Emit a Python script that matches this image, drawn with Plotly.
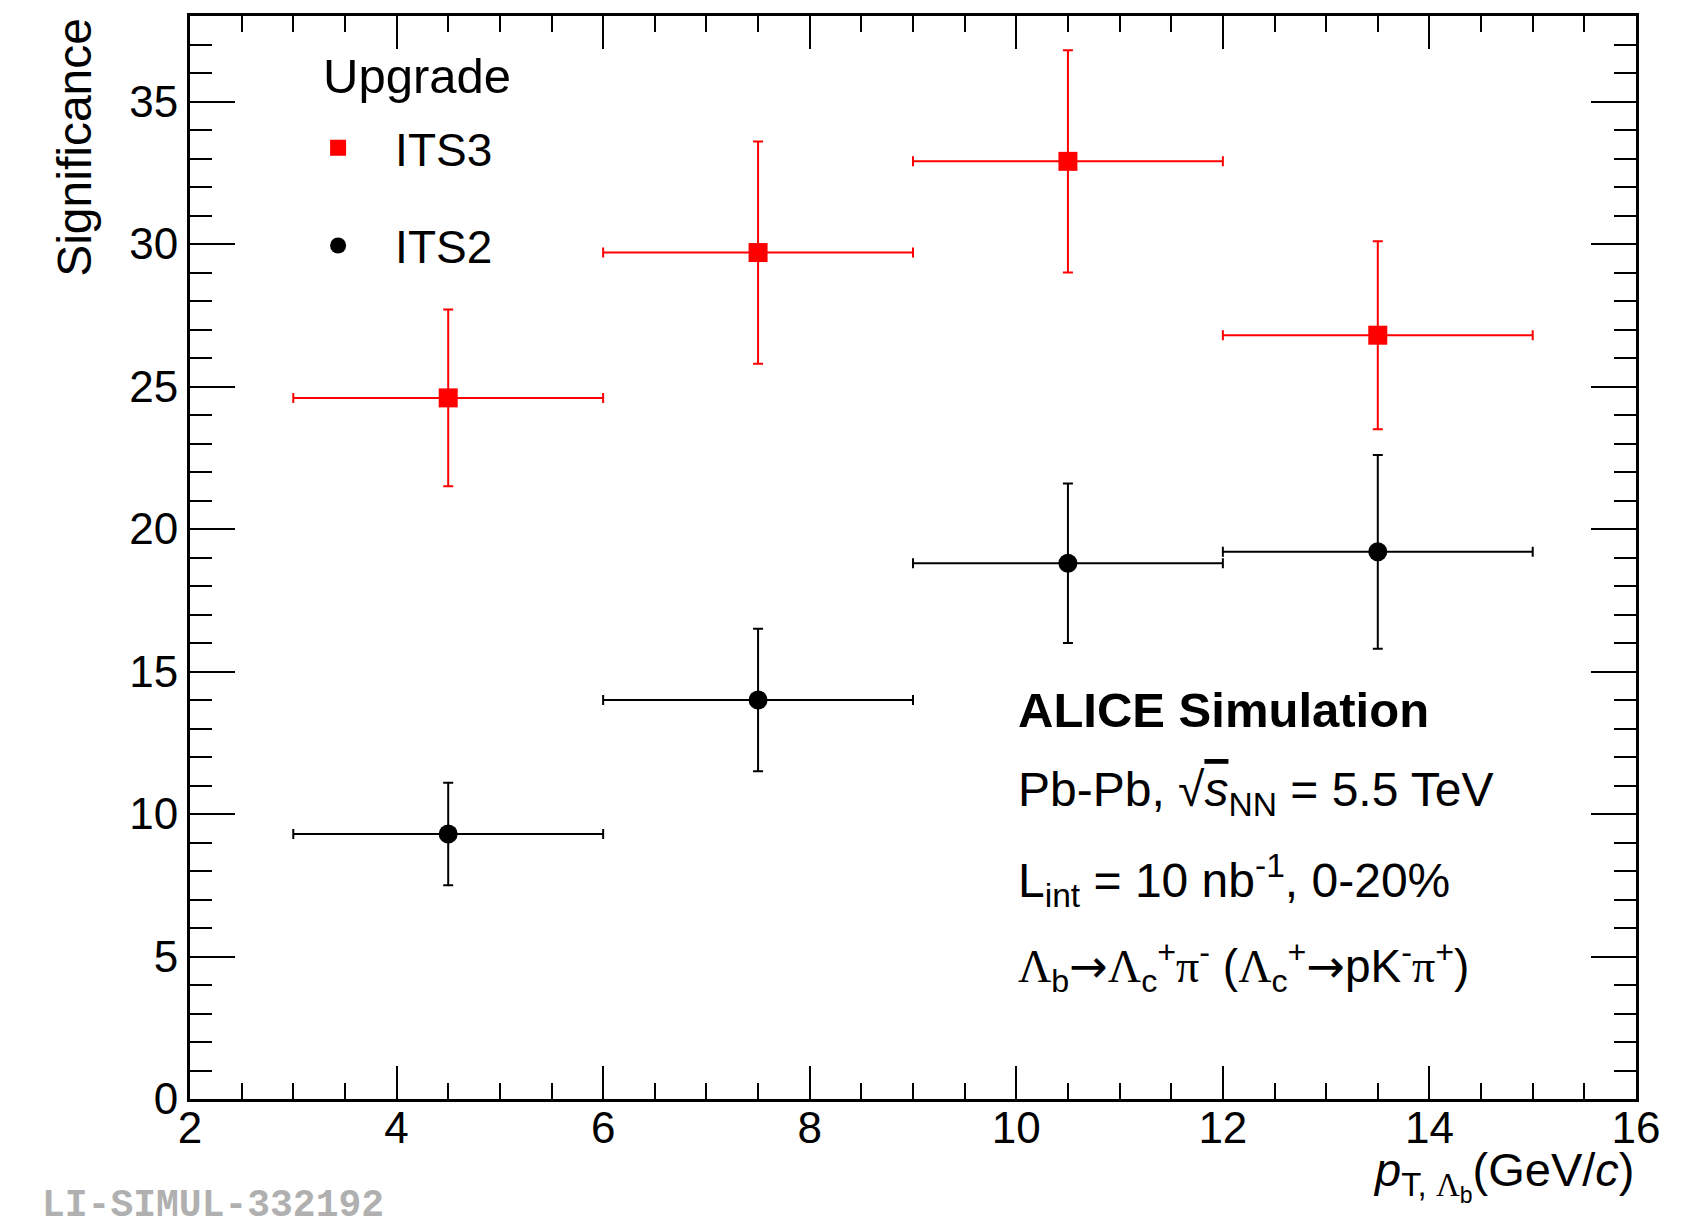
import plotly.graph_objects as go

# ---- data ----
pt_centers = [4.5, 7.5, 10.5, 13.5]
pt_halfwidth = [1.5, 1.5, 1.5, 1.5]

its3_sig = [24.6, 29.7, 32.9, 26.8]
its3_err = [3.1, 3.9, 3.9, 3.3]

its2_sig = [9.3, 14.0, 18.8, 19.2]
its2_err = [1.8, 2.5, 2.8, 3.4]

x_ticks = [2, 4, 6, 8, 10, 12, 14, 16]
y_ticks = [0, 5, 10, 15, 20, 25, 30, 35]

FONT = "Liberation Sans, Arial, Helvetica, sans-serif"
SERIF = "font-family:Liberation Serif, Times New Roman, serif"
ARROW = "<span style='font-family:DejaVu Sans'>→</span>"
LAM = f"<span style='{SERIF}'>Λ</span>"
PI = f"<span style='{SERIF}'>π</span>"

fig = go.Figure()

fig.add_trace(go.Scatter(
    x=pt_centers, y=its3_sig, mode="markers", name="ITS3",
    legendgroup="its3",
    marker=dict(symbol="square", size=19, color="#ff0000"),
    error_x=dict(type="data", array=pt_halfwidth, color="#ff0000", thickness=2, width=5),
    error_y=dict(type="data", array=its3_err, color="#ff0000", thickness=2, width=5),
))
fig.add_trace(go.Scatter(
    x=pt_centers, y=its2_sig, mode="markers", name="ITS2",
    legendgroup="its2",
    marker=dict(symbol="circle", size=19, color="#000000"),
    error_x=dict(type="data", array=pt_halfwidth, color="#000000", thickness=2, width=5),
    error_y=dict(type="data", array=its2_err, color="#000000", thickness=2, width=5),
))

axis_common = dict(
    showgrid=False, zeroline=False, showline=True, linecolor="black", linewidth=3,
    mirror="allticks", ticks="inside", tickcolor="black", tickwidth=2,
    tickfont=dict(family=FONT, size=44, color="black"),
)

fig.update_xaxes(
    range=[2, 16], tickvals=x_ticks, ticklen=33, ticklabelstandoff=-12,
    minor=dict(dtick=0.5, ticklen=16, tickwidth=2, ticks="inside", tickcolor="black"),
    **axis_common,
)
fig.update_yaxes(
    range=[0, 38], tickvals=y_ticks, ticklen=45,
    minor=dict(dtick=1, ticklen=22, tickwidth=2, ticks="inside", tickcolor="black"),
    **axis_common,
)

annotations = [
    # y-axis title (top aligned, ROOT style)
    dict(text="Significance", textangle=-90, xref="paper", yref="paper",
         x=-0.08, y=1.0, xanchor="center", yanchor="top", showarrow=False,
         font=dict(family=FONT, size=48, color="black")),
    # x-axis title (right aligned)
    dict(text=f"<i>p</i><sub>T, {LAM}<sub>b</sub></sub>(GeV/<i>c</i>)", xref="paper", yref="paper",
         x=1.0, y=-0.071, xanchor="right", yanchor="middle", showarrow=False,
         font=dict(family=FONT, size=47, color="black")),
    # legend header
    dict(text="Upgrade", xref="paper", yref="paper",
         x=0.0905, y=0.945, xanchor="left", yanchor="middle", showarrow=False,
         font=dict(family=FONT, size=49, color="black")),
    # text block
    dict(text="<b>ALICE Simulation</b>", xref="paper", yref="paper",
         x=0.571, y=0.359, xanchor="left", yanchor="middle", showarrow=False,
         font=dict(family=FONT, size=49, color="black")),
    dict(text="Pb-Pb, √<span style='text-decoration:overline'><i>s</i></span><sub>NN</sub> = 5.5 TeV",
         xref="paper", yref="paper",
         x=0.571, y=0.2826, xanchor="left", yanchor="middle", showarrow=False,
         font=dict(family=FONT, size=48, color="black")),
    dict(text="L<sub>int</sub> = 10 nb<sup>-1</sup>, 0-20%", xref="paper", yref="paper",
         x=0.571, y=0.202, xanchor="left", yanchor="middle", showarrow=False,
         font=dict(family=FONT, size=48, color="black")),
    dict(text=f"{LAM}<sub>b</sub>{ARROW}{LAM}<sub>c</sub><sup>+</sup>{PI}<sup>-</sup> "
              f"({LAM}<sub>c</sub><sup>+</sup>{ARROW}pK<sup>-</sup>{PI}<sup>+</sup>)",
         xref="paper", yref="paper",
         x=0.571, y=0.1228, xanchor="left", yanchor="middle", showarrow=False,
         font=dict(family=FONT, size=46, color="black")),
    # watermark
    dict(text="<b>LI-SIMUL-332192</b>", xref="paper", yref="paper",
         x=-0.104, y=-0.098, xanchor="left", yanchor="middle", showarrow=False,
         font=dict(family="Liberation Mono, Courier New, monospace", size=38, color="#b0b0b0")),
]

fig.update_layout(
    width=1692, height=1222,
    margin=dict(l=190, r=56, t=16, b=123),
    paper_bgcolor="white", plot_bgcolor="white",
    showlegend=True,
    legend=dict(
        font=dict(family=FONT, size=46, color="black"),
        x=0.063, y=0.912, xanchor="left", yanchor="top",
        bgcolor="rgba(0,0,0,0)", borderwidth=0,
        itemwidth=104, tracegroupgap=35,
    ),
    annotations=annotations,
)

fig.write_html("out.html")
